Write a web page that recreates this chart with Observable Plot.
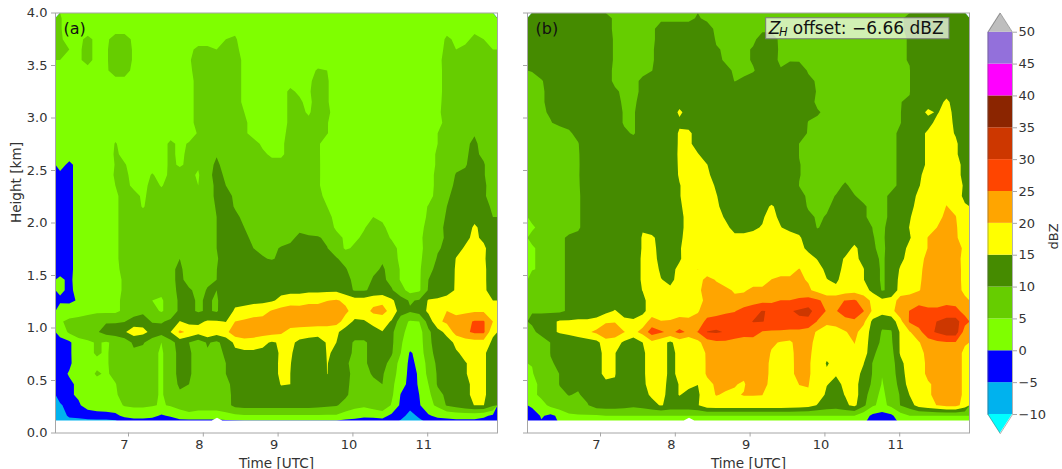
<!DOCTYPE html>
<html><head><meta charset="utf-8">
<script src="https://cdn.jsdelivr.net/npm/d3@7"></script>
<script src="https://cdn.jsdelivr.net/npm/@observablehq/plot@0.6"></script>
<style>
html,body{margin:0;padding:0;background:#fff}
#chart{position:relative;width:1062px;height:469px;overflow:hidden}
#chart svg{position:absolute;top:0;background:transparent;overflow:visible}
</style></head><body><div id="chart"></div>
<script>
const N = NaN;
const offset = 6.66;
const bandEdges = [-10,-5,0,5,10,15,20,25,30,35,40,45,50];
const bandColors = ["#00ffff","#00b2ee","#0000ff","#7fff00","#66cd00","#458b00","#ffff00","#ffa500","#ff4500","#cd3700","#8b2500","#ff00ff","#9370db","#bebebe"];
const timeTicks = [7,8,9,10,11];
const heightTicks = [0,0.5,1,1.5,2,2.5,3,3.5,4];
const floorTimes = [6.024,8.12,8.19,8.26,11.933];
const floorHeights = [0.115,0.115,0.14,0.115,0.115];
// Reflectivity of panel (a), dBZ; rows run from 3.95 km down to 0.265 km, columns from 6.09 to 11.86 UTC
const heightRows = [
[5.2,4,4,4,4,4,4,4, 4,3,3,N,N,3,3,3, 3,3,3.5,3,3,3,3,3, 3,3,3,3,3,3,3,3, 3,3,3,3,3,3,3,3, 3,4,4,4,4,4,4,4],
[5.2,4,4,4,4,4,4,4, 4,3,3,3,3,3,4,4, 4,4,4,4,3,3,3,3, 3,3,3,3,3,3,3,3, 3,3,3,3,3,3,3,3, 3,4,4,4,4.5,4,4,4],
[5.2,4.5,4.5,5.5,4.5,4.5,6,6, 4.5,3,3,3,3,3,4,4, 4,4,5,5.5,3,3,3,3, 3,4,4,3,3,3,3,3, 3,3,3,3,3,3,3,3, 3,3.5,5.5,4.5,4,6,5,4],
[5.2,5,4.5,6,4,4.5,7,7, 4.5,3,3,3,3,3,4.5,5.5, 5.5,5,6,6,3.6,3,3,3, 3.5,4.2,4.2,3,3,3,3,3, 3,3,3,3,3,3,3,3, 3,3.5,6,5,6,7,7,5],
[5,4,4.5,6,4,4.5,7,7, 4.5,3,3,3,3,3,4.5,7, 7,7,7,7,4,3,3,3, 3.5,4,4,3,3,3,3,3, 3,3,3,3,3,3,3,3, 3,3.5,7,7,7,7,7,5.5],
[3.4,4,4,4,4,4.5,6.5,6.5, 4,3,3,3,3,3.3,4,7, 7,7,7,7,4,4,3,3, 3.2,4,4,3.5,5.5,5,3,3, 3,3,3,3,3,3,3,3, 3,3.2,7,7,7,7,7,6],
[3,3.2,4,4,4,4,4,4, 4,3,3,3,3.6,4,4,6, 7,7,7,7,4,4,3.3,3.6, 4,4,4,4,7,5.2,4,3, 3,3,3,3,3,3,3,3, 3,3.2,7,7,7,7,7,5.2],
[3,3,4,4,4,4,4,4, 4,3.6,3,3,3.6,4,4,6, 7,7,7,7,4,4,4,4, 4,5.5,4.5,4.5,7,5.2,4,3.2, 3,3,3,3,3,3,3,3, 3,3.2,7,7,7,7,7,5.2],
[3,3,4,4,4,4,4,4, 4,4,3,3,4,4,4,6, 7,7,7,7,4,4,4,4, 4,5.5,5.5,4,7,5.2,4,3, 3,3,3,3,3,3,3,3, 3.3,3.6,7,7,7,9,7,5.5],
[2.5,3,3.6,4,4,4,4,4, 4,4,3.2,3.2,4,4,4,6, 9,7,7,7,5,4,4,4, 4,5.5,6,4.5,7,5.5,4,3.5, 3,3,3,3,3,3,3,3, 3.3,4,7,9,8,10,7,5.5],
[2,2.5,3.2,4,4,4,4,4, 4,4,3.2,3.2,4,4,4,6, 7.5,7,7,7,5.5,4,4,4, 4,5.5,6,6,7,5.2,3.2,3, 3,3,3,3,3,3,3,3, 3.3,4,6,7,9.5,10,7.5,5.5],
[2,2,2,2,3,4,4,4, 4,4,3.6,3.2,4,4,4,5.2, 9,9,7,7,5.5,4,4,4, 4,6,6,6,6,5.2,3,3, 3,3,3,3,3,3,3,3, 3.6,5,7,9,9.5,9.8,8,5.5],
[2,2,2,2,2,3.2,5.2,4, 4,4,4,4,5.5,4.5,5.2,5.5, 9,9,7,7,7,6,4.5,5, 4.5,6,6,6,5.5,3.3,3,3, 3,3,3,3,3,3,3,3, 3.6,5,7,9,9.5,10.5,9,6],
[2,2,2,2,2,3,5.5,4.2, 4,4,4,4,5.5,4.5,5.5,6, 9,9.8,8.5,7,7,7,5.5,4.5, 4.5,6,6,6,5.5,3.3,3,3, 3,3,3,3,3,3,3,3, 3.6,5.5,7,9,9.5,11,9,6],
[1.5,-1,1.5,2,2,3,5.2,5.2, 4,4,4,4,5.5,4.7,5.5,5.5, 9,10.5,9,8.4,7,7,6,6, 6,6,6,6,5.5,3.4,3,3, 3,3,3,3,3,3,3,3, 3.6,5.5,7,9,9.8,11,10.5,6.5],
[-1,-1,1.5,2,2,3,5.5,5.5, 4.3,4,5.2,4.2,5.5,6,6,4.5, 9,11,9.5,9,7,7,7,6, 6,6,6,6,5.5,3.4,3,3, 3,3,3,3,3,3,3,3, 3.6,6,7.5,10.3,10.5,11,10.5,6.5],
[-1,-1,1.5,2,2,3,5,6, 4.3,4,6,4.8,6,6,6,5, 8,11,10,9.5,8,7,7,6, 6,6,6,6,5.5,3.3,3,3, 3,3,3.5,3,3,3,3,3, 3.6,6,8,11,11,11,11,7.5],
[-1,-1,1.5,2,2,3,4.5,6, 6,4.5,6,6,6,6,6,5, 8,11,11,9.5,8.5,7,7,6.5, 6,6,6,6,6,4,3,3, 3,3.4,3.8,3.4,3,3,3,3.6, 4,6,9.5,11,11,12,11,7],
[-1,-1,1.5,2,2,3,4.5,6, 6,4.8,6,6,6,6,6,6, 7.5,10.5,11,9.8,9,7,7,7, 6,7,8.8,7,6,5,3,3, 3,4,4,4,3.5,3,3,3.6, 5.2,7,10,11,11,13.5,12,9],
[-1,-1,1.5,2,2,3,4.5,6, 6,6,6,6,6,6,6,6, 7,10,11,10.5,9.5,8,7,7, 6.5,8,9.5,7.5,6.5,6,4,3, 3.5,4.5,5,4.5,3.5,3,3,3.6, 5.5,8,10.5,11.5,12.5,14,13.5,10],
[-2,-1,1.5,2,2,3,4.5,6, 6,6,6,6,8,6.5,6,6, 7,10,11,11,10,9,7.5,7.5, 8,8.5,9.5,8.5,7,6.5,4.5,3.2, 4,4.8,6,5.5,4,3.3,3,4, 6,8.5,11,12,13.4,15.5,14,10],
[-1,-1,1.5,2.5,4,4,4.5,6, 6,6,6,6,8.7,9,7,7, 7.5,10,11,11,10.5,9.5,9,9, 9,9.5,10.5,10.5,10.5,9,6,4.5, 4.5,5.5,7,7,4.5,3.4,3,4.2, 6.5,8,11,13.5,14,16,14,11],
[-2,-1,1.5,2.5,4,4,4.5,6, 6,6,6,6,8.7,9.5,7,7, 8,10,11,11,11,10,9.5,9.5, 10.2,10.5,11,11,11,10.2,7,4.5, 5.5,6,7,9,7,3.5,3,4, 6.5,9.5,11,13.5,15.5,16.5,16,12],
[-2,-1,1.5,2.5,4,4,4.5,6, 6,6,6,6,9,10,7,7, 8,9.8,11,11,11,11,10.2,9.8, 10.5,11,11,11,11,11,10.5,8, 7,7,8.7,9.5,7,4,3,4.2, 7,10.5,11,15.2,16,17,16,11],
[-2,-1,1.5,2.5,4,4,4.2,6, 6,6,6,6,9,11,7.5,7.5, 9,9.9,13.4,12,12,12,12,12, 12,12,12,12,12,13.5,12,10.5, 7,7.5,9,10.5,8.5,4.5,3,4.2, 9,11,12,15.5,16.5,17,16.5,11],
[1,-1,2,2.5,4,4,4,5.5, 6,6,6,6,9,11,8.5,7.5, 9.5,10,12.5,14,13.2,12,12,12, 12,12,13.4,14,14,14,13,12, 8.5,7.5,10.5,11,8.5,4.5,3,4.2, 10,11.5,12.5,15.5,16.5,17,16.5,11],
[1,-1,1.5,2.5,4,4,4,5.5, 6,6,6,6,8.5,11,10.5,9, 10.2,10,13,14,14,14,13,13, 14,14,14,14,14,14,14,12, 9.5,9.5,11,11.5,10.5,7,3,4.2, 10.5,11.5,13,15.5,16.5,17,16.5,11.5],
[-1,-1,0.5,2.5,4,4,4,6, 6,6,5,4.5,7,11,11,9.5, 10.5,9.5,12.5,14,14,14,14,14.5, 16,17,17,18.5,18.5,19.8,20.5,19, 17,17,18.5,19,16,12,9.5,10.5, 15.5,16,17,17,17,17.5,17,15],
[3,2.5,2.5,2.5,4,4,4,6, 7,8.7,6.5,4.5,7,11,11,9.5, 10.5,9.5,13,15.5,16,17,18,20.5, 22,23.5,23,23,23,24,25,21, 18,18,21,21.5,18.5,12.5,10.5,12, 16,18.5,20,19,19,19.5,19.5,17],
[4.5,6,7,9,9,9.5,9.5,9.8, 12.5,13,9.5,9.5,11,15.2,13.5,14, 15.5,15.5,14.8,20,21,22,22,22, 23.5,23.4,23,22.5,22.5,22.5,22,18, 14,14.5,16.5,17.5,14.5,7,4.5,5, 12,19,21,21.5,23.5,25.5,25.5,20],
[1.5,6,7,9,9.5,12,12.5,14.5, 17.5,16.5,13.5,12,15,21,19,17, 19.5,17.5,18.5,23.5,24,23,22.5,22, 21,18,17.5,17.5,17,17,16,12.5, 12,12,13,14.8,11,6.5,3,3, 9,13,16.5,22,24,26,26,16],
[-1.5,-1,3.5,4,5.5,4.5,6,7, 11,10.5,7.5,5,8.3,12,10,7.5, 10.5,9,12,16,17.5,17.5,16,14.5, 15.6,16,14,13,12.5,15.5,15,11.5, 9.5,9.5,11,13.5,11,5.5,2.5,2.5, 9,12,13,16,17.5,18,18,14],
[-1.5,-1,3.5,4,5.5,4.5,6.5,7.5, 9,8.5,6,4.5,7,12,11,7, 9.5,9,10.5,14,14,14,14,14, 15.4,15.6,13,12,12,15.3,14.5,11, 9.5,9.5,11,12.5,10.5,5,-0.5,1.5, 9,11,12,14.5,16,16,16,12],
[-1.5,-1,3,4,4,4.5,6.5,7.5, 9,8.5,6,4.5,7,12,11,7, 9.5,9,10,14,14,14,14,14, 15.5,15.2,12.5,12,12,15.1,14,11, 8,9.5,11,11.5,8.5,3,-1,1, 7,11,12,14,14.8,16,16,12],
[-2,0.5,1,3.5,5.5,4.5,6,7.5, 9,8.5,6,4.5,7,12,11,7, 9.5,9,10,14,14,14,14,14, 15.5,15,12.5,12,12,15.05,14,11, 9,8.6,10.5,10.5,7,3,-1.5,0.5, 6.5,10.5,12,14,14.8,16,16,12],
[-2.5,-1,1,3.5,3.6,4,4.8,7, 7.8,8,6,4.5,7,11,10,7, 8.5,9,8.4,12,14,14,13.5,13, 15.2,15,12,11.5,11.5,13.4,13.5,11, 8.5,7.5,9,10,6,2.5,-2,0.5, 5,10.5,11.5,13,14,16,16,12],
[-3,-0.5,0.5,2.5,3.5,3,4.5,6.5, 7,7,6,4.5,7,9,9.5,7, 8.5,7.5,7.5,12,13.5,13,13,13.5, 13.5,13.4,11.5,11.5,11.5,12.5,13,11, 7.5,7,8.5,10,6,-0.3,-2.5,0, 3.8,8.5,11,13,14,16,16,12],
[-5.5,-3.5,-0.5,1.5,2,2.5,3,5.5, 6,6,5.5,4.5,5.5,7,8.7,7, 7,7,8,11.5,12,12,12,12, 12,12,12,12,11.5,11,10.5,8, 6.5,6,7.5,9.5,4.5,-1,-3,-0.5, 3.5,6,10.5,12,13.5,15.1,15.1,11]
];
// Lowest two rows (0.165 and 0.066 km) differ between the panels near the ground
const nearGroundA = [
[-8,-4,-3,-2,-1.5,-1.5,-1,1, 1.5,1.5,1,-0.5,0.5,2,3,3, 3,3,3.5,4,4.5,4.5,4.5,4.5, 4.5,4.5,4.5,4.5,4.5,4.5,4.5,3, 2,1,1,1.5,-1,-3,-7,-4, -0.5,1,1.5,2,2,2,1,-1],
[-10,-10,-11,-11,-11,-11,-10,-6, -4,-4,-4,-4,-4,-4,-5,-5, -5,-5,-5,-5,-5,-5,-5,-5, -5,-5,-5,-5,-5,-5,-5,-5, -5,-5,-4,-4,-5,-8,-10,-8, -6,-4,-4,-4,-4,-4,-4,-5]
];
const nearGroundB = [
[-3,0.5,-1,1,4,4.5,4.5,4.5, 5,5,5,5,5,5,5,5, 5,5,5,5,5,5,5,5, 5,5,5,5,5,5,5,5, 5,5,5,5,2,-1,-2,-1, 3,5,5,5,5,5,5,5],
[-5,-1,-3,0,1,1,1,1, 1,1,1,1,1,1,1,1, 1,1,1,1,1,1,1,1, 1,1,1,1,1,1,1,1, 1,1,1,1,0,-3,-4,-3, 0,1,1,1,1,1,1,1]
];
heightRows.concat(nearGroundA, nearGroundB).forEach((r,i)=>{ if(r.length!==48) throw new Error("row "+i+" has "+r.length); });

const nCols = 48, nRows = heightRows.length + 2;
const gridA = heightRows.concat(nearGroundA).reverse().flat();
const gridB = heightRows.map(r=>r.map(v=>v+offset)).concat(nearGroundB).reverse().flat();
const colorScale = {type:"threshold", domain:bandEdges, range:bandColors};
const levels = [-40, ...bandEdges];
const tMin = 6.024, tMax = 11.933, zMin = 0.0158, zMax = 4;
const textInk = "#333", spine = "#a6a6a6", font = "DejaVu Sans";

function panel(grid, tag, isLeft, extra = []) {
  return Plot.plot({
    width: 520, height: 469,
    marginLeft: 55, marginRight: 520-497, marginTop: 12.5, marginBottom: 469-432.5,
    style: {fontFamily: font, fontSize: "12.3px", color: textInk, background: "transparent"},
    x: {domain: [tMin, tMax], label: null, axis: null},
    y: {domain: [0, 4], label: null, axis: null},
    color: colorScale,
    marks: [
      Plot.contour(grid, {width: nCols, height: nRows, x1: tMin, x2: tMax, y1: zMin, y2: zMax,
        fill: Plot.identity, thresholds: levels, clip: "frame"}),
      Plot.areaY(floorTimes, {x: d=>d, y1: 0, y2: (d,i)=>floorHeights[i], fill: "white"}),
      ...extra,
      Plot.text([tag], {frameAnchor: "top-left", dx: 8, dy: 10, fontSize: 16, fill: "#111", textAnchor: "start", lineAnchor: "top"}),
      Plot.frame({stroke: spine, strokeWidth: 1}),
      Plot.axisX({ticks: timeTicks, tickSize: 4, tickFormat: () => "", stroke: spine, label: null}),
      Plot.axisX({ticks: timeTicks, tickSize: 0, tickPadding: 7, dx: -4, tickFormat: d => String(d), label: null, fill: textInk, fontSize: 13}),
      Plot.axisY({ticks: heightTicks, tickSize: 4, tickPadding: 4, stroke: spine, label: null,
        tickFormat: isLeft ? d3.format(".1f") : () => "", fill: textInk, fontSize: 13}),
      Plot.text(["Time [UTC]"], {frameAnchor: "bottom", dy: 34.5, fontSize: 13.6, fill: textInk}),
      ...(isLeft ? [Plot.text(["Height [km]"], {frameAnchor: "left", dx: -39, rotate: -90, fontSize: 13.6, fill: textInk})] : [])
    ]
  });
}

const offsetLabel = [
  {t: 9.25, text: "Z", style: "italic", size: 17, dy: 0},
  {t: 9.385, text: "H", style: "italic", size: 11.5, dy: 4},
  {t: 9.57, text: "offset: \u22126.66 dBZ", style: "normal", size: 17, dy: 0}
];
const labelMarks = [
  Plot.rect([{t1: 9.215, t2: 11.665, z1: 3.75, z2: 3.95}], {x1: "t1", x2: "t2", y1: "z1", y2: "z2", fill: "white", fillOpacity: 0.7, stroke: "#7a7a7a", strokeWidth: 1}),
  ...offsetLabel.map(d => Plot.text([d], {x: "t", y: 3.85, text: "text", textAnchor: "start", fontStyle: d.style, fontSize: d.size, dy: d.dy, fill: "#111"}))
];

const bands = bandEdges.slice(0, -1).map((lo, i) => ({lo, hi: bandEdges[i+1]}));
const capX = [0, 0.5, 1];
const capTop = [50, 53, 50];
const capBottom = [-10, -13, -10];
const outlineX = [0, 0, 0.5, 1, 1, 0.5, 0];
const outlineY = [-10, 50, 53, 50, -10, -13, -10];
const colorbar = Plot.plot({
  width: 102, height: 469,
  marginLeft: 27.5, marginRight: 50, marginTop: 12.6, marginBottom: 469-433.1,
  style: {fontFamily: font, fontSize: "12.3px", color: textInk, background: "transparent"},
  x: {domain: [0, 1], axis: null, label: null},
  y: {domain: [-13, 53], axis: null, label: null},
  color: colorScale,
  marks: [
    Plot.rect(bands, {x1: 0, x2: 1, y1: "lo", y2: "hi", fill: "lo"}),
    Plot.areaY(capX, {x: d=>d, y1: 50, y2: (d,i)=>capTop[i], fill: bandColors[13]}),
    Plot.areaY(capX, {x: d=>d, y1: -10, y2: (d,i)=>capBottom[i], fill: bandColors[0]}),
    Plot.line(outlineX, {x: d=>d, y: (d,i)=>outlineY[i], stroke: "#555", strokeOpacity: 0.45, strokeWidth: 1}),
    Plot.axisY({anchor: "right", ticks: bandEdges, tickSize: 4, tickPadding: 2, stroke: spine, fill: textInk, label: null, fontSize: 13, tickFormat: d => String(d).replace("-", "\u2212")}),
    Plot.text(["dBZ"], {frameAnchor: "right", dx: 41, rotate: -90, fontSize: 13, fill: textInk})
  ]
});

const root = document.getElementById("chart");
const a = panel(gridA, "(a)", true);
const b = panel(gridB, "(b)", false, labelMarks);
a.style.left = "0px"; b.style.left = "472px"; colorbar.style.left = "960px";
root.append(a, b, colorbar);
</script></body></html>
